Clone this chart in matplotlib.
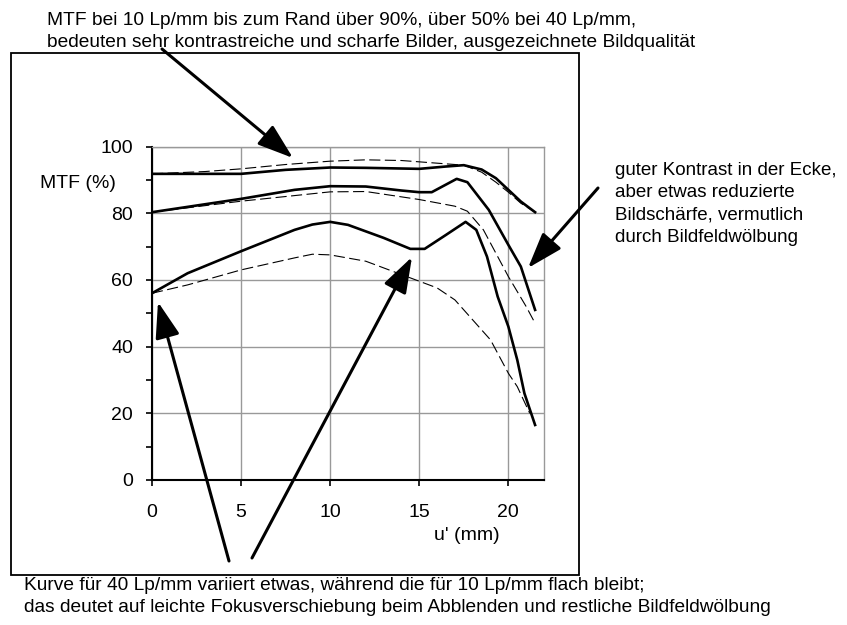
import matplotlib
matplotlib.use("Agg")
import matplotlib.pyplot as plt
from matplotlib.patches import FancyArrowPatch, Rectangle

plt.rcParams["font.family"] = ["Liberation Sans", "DejaVu Sans"]

# ==============================
# Data
# ==============================

u_10_solid = [0, 5, 7.5, 10, 12, 15, 16.5, 17.5, 18.5, 19.3, 20, 20.7, 21.5]
mtf_10_solid = [91.8, 91.8, 93, 93.7, 93.6, 93.3, 94, 94.4, 93.1, 90.5, 87, 83.5, 80.3]

u_10_dash = [0, 3, 5, 7.5, 10, 12, 14, 16, 17.5, 18.5, 19.3, 20, 20.7, 21.5]
mtf_10_dash = [91.8, 92.5, 93.3, 94.6, 95.6, 96, 95.8, 95, 94.4, 92.3, 89.3, 86.3, 83, 80.3]

u_20_solid = [0, 5, 8, 10, 12, 14, 15, 15.7, 17.1, 17.7, 18.9, 20, 20.7, 21.5]
mtf_20_solid = [80.3, 84.3, 87, 88.1, 88, 86.8, 86.3, 86.3, 90.3, 89.3, 81, 70.5, 64, 51]

u_20_dash = [0, 5, 10, 12, 15, 17, 17.7, 18.6, 20, 21, 21.5]
mtf_20_dash = [80.3, 83.6, 86.4, 86.5, 84.1, 82.1, 80.6, 75, 61, 52, 47]

u_40_solid = [0, 2, 5, 8, 9, 10, 11, 13, 14.5, 15.3, 16.5, 17.6, 18.2, 18.8,
              19.4, 20, 20.5, 20.9, 21.5]
mtf_40_solid = [56, 62, 68.6, 75, 76.6, 77.4, 76.5, 72.6, 69.3, 69.3, 73.5, 77.4,
                75, 67, 55, 46, 36, 26, 16.5]

u_40_dash = [0, 2, 5, 8, 9, 10, 12, 13.5, 15, 16, 17, 18, 19, 20, 20.5, 21.2]
mtf_40_dash = [56, 58.5, 63, 66.6, 67.7, 67.5, 65.6, 62.6, 59.6, 57.6, 54, 48,
               42, 32, 28, 20]

x_ticks = [0, 5, 10, 15, 20]
y_ticks = [0, 20, 40, 60, 80, 100]
y_minor = [10, 30, 50, 70, 90]

text_top = ["MTF bei 10 Lp/mm bis zum Rand über 90%, über 50% bei 40 Lp/mm,",
            "bedeuten sehr kontrastreiche und scharfe Bilder, ausgezeichnete Bildqualität"]
text_right = ["guter Kontrast in der Ecke,", "aber etwas reduzierte",
              "Bildschärfe, vermutlich", "durch Bildfeldwölbung"]
text_bottom = ["Kurve für 40 Lp/mm variiert etwas, während die für 10 Lp/mm flach bleibt;",
               "das deutet auf leichte Fokusverschiebung beim Abblenden und restliche Bildfeldwölbung"]

# ==============================
# Figure
# ==============================

W, H = 847, 625
fig = plt.figure(figsize=(W / 100, H / 100), dpi=100)


def fp(x, y):
    # pixel position (top-left origin) -> figure fraction
    return (x / W, 1 - y / H)


ax = fig.add_axes([152 / W, 1 - 480 / H, 392 / W, 333.5 / H])

solid = dict(color="black", lw=1.9, solid_joinstyle="round")
dashed = dict(color="black", lw=0.8, linestyle=(0, (10, 4)))

ax.plot(u_10_dash, mtf_10_dash, **dashed)
ax.plot(u_20_dash, mtf_20_dash, **dashed)
ax.plot(u_40_dash, mtf_40_dash, **dashed)
ax.plot(u_10_solid, mtf_10_solid, **solid)
ax.plot(u_20_solid, mtf_20_solid, **solid)
ax.plot(u_40_solid, mtf_40_solid, **solid)

ax.set_xlim(0, 22)
ax.set_ylim(0, 100)
ax.set_xticks(x_ticks)
ax.set_yticks(y_ticks)
ax.set_yticks(y_minor, minor=True)
ax.grid(True, color="#999999", lw=1)
ax.set_axisbelow(True)

for side in ["top", "right"]:
    ax.spines[side].set_color("#999999")
    ax.spines[side].set_linewidth(1)
for side in ["left", "bottom"]:
    ax.spines[side].set_linewidth(1.5)

ax.tick_params(axis="both", which="both", direction="out", length=4, width=1.2,
               labelsize=14, colors="black")
ax.tick_params(axis="y", pad=9.5)
ax.tick_params(axis="x", pad=13)

# axis labels placed like the original
fig.text(*fp(116, 184), "MTF (%)", fontsize=14, ha="right", va="center")
fig.text(*fp(467, 535), "u' (mm)", fontsize=14, ha="center", va="center")

# ==============================
# Frame and annotations
# ==============================

fig.add_artist(Rectangle(fp(11, 575), 568 / W, 522 / H, transform=fig.transFigure,
                         fill=False, edgecolor="black", lw=1.3))

for i, line in enumerate(text_top):
    fig.text(*fp(47, 25 + 22 * i), line, fontsize=13.8, ha="left", va="baseline")
for i, line in enumerate(text_right):
    fig.text(*fp(615, 175 + 22.3 * i), line, fontsize=13.5, ha="left", va="baseline")
for i, line in enumerate(text_bottom):
    fig.text(*fp(24, 590 + 22 * i), line, fontsize=13.8, ha="left", va="baseline")

arrows = [((162, 49), (293, 158)),
          ((598, 188), (528, 268)),
          ((229, 561), (158, 302)),
          ((252, 558), (412, 257))]

for start, end in arrows:
    fig.add_artist(FancyArrowPatch(fp(*start), fp(*end), transform=fig.transFigure,
                                   arrowstyle="-|>,head_length=2.2,head_width=0.75",
                                   mutation_scale=10, lw=2.2, color="black",
                                   shrinkA=0, shrinkB=0, zorder=10))

fig.savefig("out.png", dpi=100)
